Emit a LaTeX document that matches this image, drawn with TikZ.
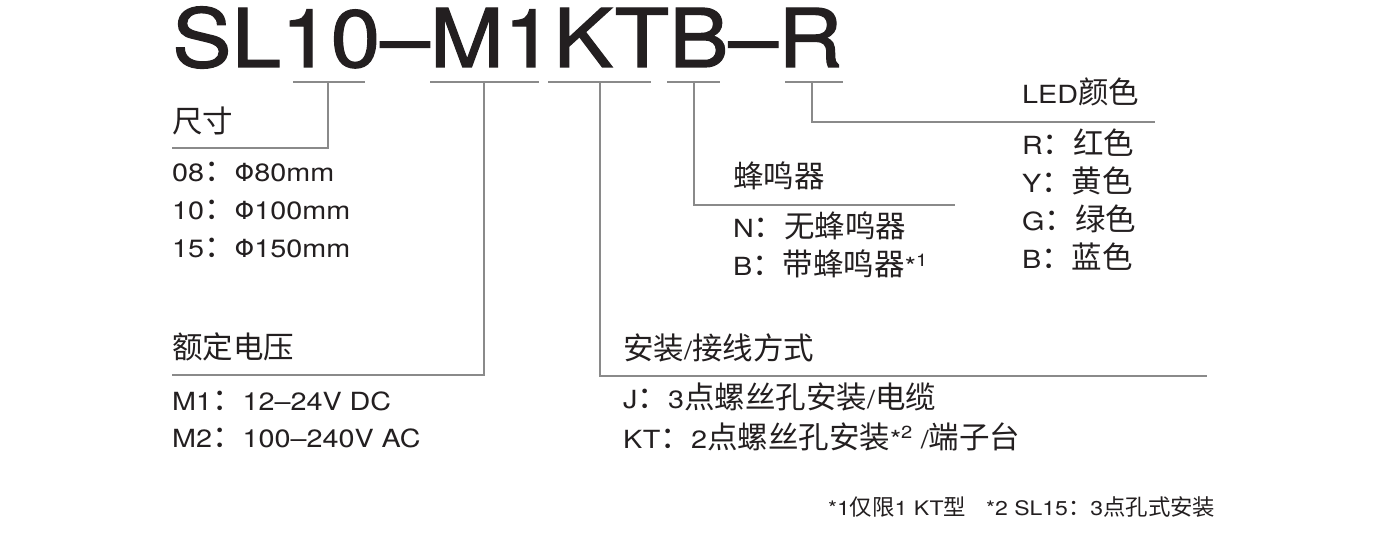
\documentclass[tikz,border=0pt]{standalone}
\usepackage{fontspec}
\setmainfont{TeX Gyre Heros}[FakeStretch=1.15]
\newfontfamily\titlefont{TeX Gyre Heros}[FakeStretch=1.1, FakeBold=1.5]
\newfontfamily\phifont{DejaVu Sans}
\newfontfamily\cjk{Noto Sans CJK SC}[Scale=1.22]
\newfontfamily\cjks{Noto Sans CJK SC}[Scale=1.12]
\newcommand{\zh}[1]{{\cjk #1}}
\newcommand{\zhs}[1]{{\cjks #1}}
\newcommand{\phisym}{{\phifont Φ}}
\definecolor{ink}{HTML}{231F20}
\definecolor{linegray}{HTML}{8A8A8A}
\tikzset{
  lbl/.style={anchor=base west, inner sep=0pt, text=ink, font=\fontsize{25}{30}\selectfont},
  foot/.style={anchor=base west, inner sep=0pt, text=ink, font=\fontsize{20}{24}\selectfont},
  leader/.style={draw=linegray, line width=1.5pt},
}
\begin{document}
\begin{tikzpicture}[x=1pt,y=-1pt]
\useasboundingbox (0,0) rectangle (1400,537);
\fill[white] (0,0) rectangle (1400,537);

% title
\node[anchor=base west, inner sep=0pt, text=ink,
      font=\titlefont\fontsize{81}{90}\selectfont] (title) at (172,67) {SL10–M1KTB–R};

% underline segments
\coordinate (u1a) at (293,82); \coordinate (u1b) at (365,82); \coordinate (u1m) at (328,82);
\coordinate (u2a) at (430,82); \coordinate (u2b) at (539,82); \coordinate (u2m) at (484,82);
\coordinate (u3a) at (548,82); \coordinate (u3b) at (651,82); \coordinate (u3m) at (600,82);
\coordinate (u4a) at (667,82); \coordinate (u4b) at (720,82); \coordinate (u4m) at (694,82);
\coordinate (u5a) at (785,82); \coordinate (u5b) at (843,82); \coordinate (u5m) at (812,82);
\coordinate (e1) at (172,148);
\coordinate (e2) at (172,375);
\coordinate (e3) at (1207,376);
\coordinate (e4) at (955,205);
\coordinate (e5) at (1155,122);

\draw[leader] (u1a) -- (u1b);
\draw[leader] (u2a) -- (u2b);
\draw[leader] (u3a) -- (u3b);
\draw[leader] (u4a) -- (u4b);
\draw[leader] (u5a) -- (u5b);
\draw[leader] (u1m) |- (e1);
\draw[leader] (u2m) |- (e2);
\draw[leader] (u3m) |- (e3);
\draw[leader] (u4m) |- (e4);
\draw[leader] (u5m) |- (e5);

% size
\node[lbl] (sizeh) at (172,133) {\zh{尺寸}};
\node[lbl] (size1) at (172,182) {08\zh{：}\phisym80mm};
\node[lbl] (size2) at (172,220) {10\zh{：}\phisym100mm};
\node[lbl] (size3) at (172,258) {15\zh{：}\phisym150mm};

% voltage
\node[lbl] (volth) at (172,358) {\zh{额定电压}};
\node[lbl] (volt1) at (172,410) {M1\zh{：}12–24V DC};
\node[lbl] (volt2) at (172,447) {M2\zh{：}100–240V AC};

% mounting
\node[lbl] (mounth) at (623,359) {\zh{安装}/\zh{接线方式}};
\node[lbl] (mount1) at (623,408) {J\zh{：}3\zh{点螺丝孔安装}/\zh{电缆}};
\node[lbl] (mount2) at (623,448) {KT\zh{：}2\zh{点螺丝孔安装}*\textsuperscript{2} /\zh{端子台}};

% buzzer
\node[lbl] (buzh) at (733,188) {\zh{蜂鸣器}};
\node[lbl] (buz1) at (733,238) {N\zh{：无蜂鸣器}};
\node[lbl] (buz2) at (733,276) {B\zh{：带蜂鸣器}*\textsuperscript{1}};

% LED colour
\node[lbl] (ledh) at (1022,104) {LED\zh{颜色}};
\node[lbl] (led1) at (1022,155) {R\zh{：红色}};
\node[lbl] (led2) at (1022,193) {Y\zh{：黄色}};
\node[lbl] (led3) at (1022,231) {G\zh{：绿色}};
\node[lbl] (led4) at (1022,269) {B\zh{：蓝色}};

% footnote
\node[foot] (note) at (828,515) {*1\zhs{仅限}1 KT\zhs{型}\quad *2 SL15\zhs{：}3\zhs{点孔式安装}};
\end{tikzpicture}
\end{document}
